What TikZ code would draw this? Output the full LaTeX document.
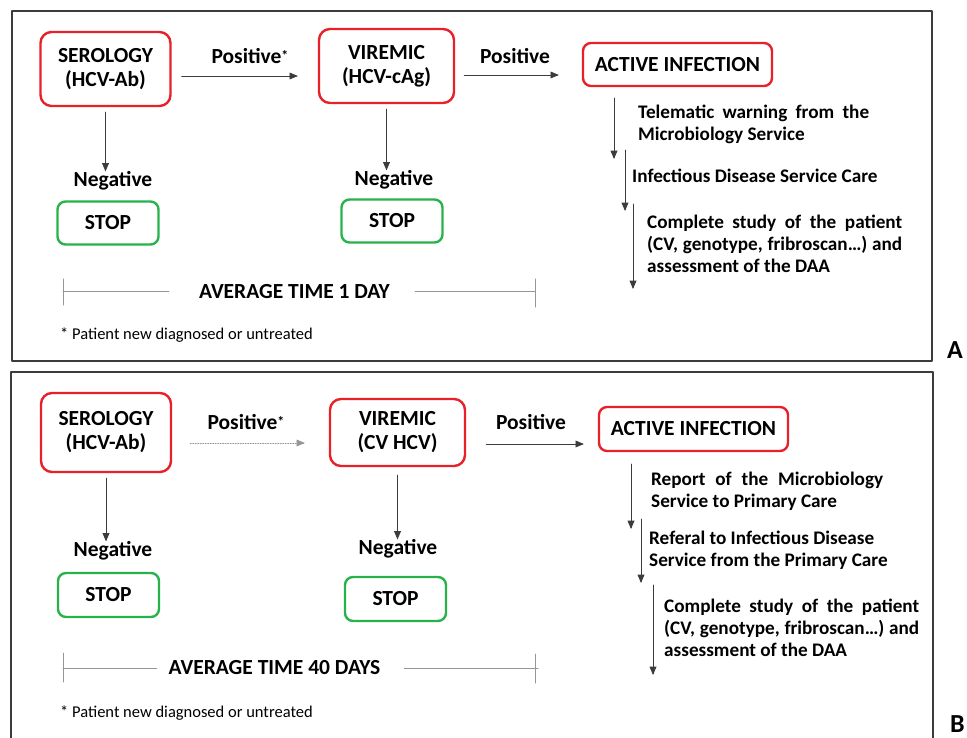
\documentclass[tikz,border=0pt]{standalone}
\usepackage{fontspec}
\setmainfont{Carlito}
\usepackage{xcolor}
\usepackage{tikz}
\usetikzlibrary{arrows}

\definecolor{boxred}{RGB}{232,32,40}
\definecolor{boxgreen}{RGB}{40,178,75}
\definecolor{linegray}{RGB}{60,60,60}
\definecolor{spangray}{RGB}{150,150,150}
\newcommand{\labfont}{\bfseries\fontsize{21.5}{24}\selectfont}
\newcommand{\stepfont}{\bfseries\fontsize{19.2}{22}\selectfont}
\newcommand{\notefont}{\fontsize{16.5}{20}\selectfont}
\newcommand{\smallstar}{\raisebox{3pt}{\fontsize{14}{14}\selectfont *}}
\tikzset{
  redbox/.style={draw=boxred,line width=2.4pt,rounded corners=11pt,align=center,font=\labfont,inner sep=0pt},
  stopbox/.style={draw=boxgreen,line width=2.4pt,rounded corners=8pt,minimum width=101pt,minimum height=43pt,font=\labfont,inner sep=0pt},
  lbl/.style={font=\labfont,inner sep=0pt},
  stepnote/.style={font=\stepfont,anchor=north west,inner sep=0pt},
  footnote/.style={font=\notefont,anchor=west,inner sep=0pt},
  tag/.style={font=\bfseries\fontsize{26}{30}\selectfont,anchor=west,inner sep=0pt},
  flow/.style={->,draw=linegray,line width=0.9pt},
  spanline/.style={draw=spangray,line width=1pt},
  panel/.style={draw=linegray,line width=1.8pt}
}

\begin{document}
\begin{tikzpicture}[line cap=round,line join=round,>=triangle 45,x=1pt,y=-1pt]
\clip(0,0) rectangle (967,738);
\draw[panel] (12,11) rectangle (932,361);
\draw[panel] (11,372) rectangle (933,760);

% A
\node[redbox,minimum width=130pt,minimum height=74pt] (serA) at (105.5,69) {SEROLOGY\\(HCV-Ab)};
\node[redbox,minimum width=135pt,minimum height=74pt] (virA) at (386.5,66) {VIREMIC\\(HCV-cAg)};
\node[redbox,rounded corners=8pt,minimum width=189pt,minimum height=43pt] (actA) at (677.5,64.5) {ACTIVE INFECTION};
\node[lbl] (posA1) at (250,56) {Positive\smallstar};
\node[lbl] (posA2) at (515,56) {Positive};
\node[lbl] (negA1) at (113,181) {Negative};
\node[lbl] (negA2) at (394,180) {Negative};
\node[stopbox] (stopA1) at (108,223) {STOP};
\node[stopbox] (stopA2) at (392,221) {STOP};
\draw[flow] ([shift={(10,7)}]serA.east) -- ([shift={(-20,10)}]virA.west);
\draw[flow] ([shift={(9,9)}]virA.east) -- ([shift={(-23,10.5)}]actA.west);
\draw[flow] ([yshift=-5pt]serA.south) -- (serA.south |- negA1.north);
\draw[flow] ([yshift=-5pt]virA.south) -- (virA.south |- negA2.north);
\node[stepnote,align=justify,text width=231pt] (tA1) at (638,105) {Telematic warning from the\linebreak Microbiology Service};
\node[stepnote] (tA2) at (632,169) {Infectious Disease Service Care};
\node[stepnote,align=justify,text width=255pt] (tA3) at (647,215) {Complete study of the patient\linebreak (CV, genotype, fribroscan…) and\linebreak assessment of the DAA};
\coordinate (a1s) at (614,98);
\coordinate (a1e) at (614,159);
\coordinate (a2s) at (625,150);
\coordinate (a2e) at (625,211);
\coordinate (a3s) at (633,204);
\coordinate (a3e) at (633,289);
\draw[flow] (a1s) -- (a1e);
\draw[flow] (a2s) -- (a2e);
\draw[flow] (a3s) -- (a3e);
\node[lbl] (avgA) at (294.5,292) {AVERAGE TIME 1 DAY};
\coordinate (avgLA) at (63,292);
\coordinate (avgRA) at (535,292);
\draw[spanline] (avgLA) -- ([xshift=-30pt]avgA.west);
\draw[spanline] ([xshift=25pt]avgA.east) -- (avgRA);
\draw[spanline] ([yshift=13pt]avgLA) -- ([yshift=-13pt]avgLA);
\draw[spanline] ([yshift=13pt]avgRA) -- ([yshift=-15pt]avgRA);
\node[footnote] (noteA) at (60,335) {* Patient new diagnosed or untreated};
\node[tag] (tagA) at (947,350) {A};

% B
\node[redbox,minimum width=130pt,minimum height=79pt] (serB) at (106,432.5) {SEROLOGY\\(HCV-Ab)};
\node[redbox,minimum width=135pt,minimum height=67pt] (virB) at (397.5,432.5) {VIREMIC\\(CV HCV)};
\node[redbox,rounded corners=8pt,minimum width=189pt,minimum height=44pt] (actB) at (693.5,429) {ACTIVE INFECTION};
\node[lbl] (posB1) at (246,422) {Positive\smallstar};
\node[lbl] (posB2) at (531,422) {Positive};
\node[lbl] (negB1) at (113,551) {Negative};
\node[lbl] (negB2) at (398,549) {Negative};
\node[stopbox,minimum height=44pt] (stopB1) at (108.5,595) {STOP};
\node[stopbox,minimum height=44pt] (stopB2) at (395.5,599) {STOP};
\draw[flow,draw=spangray,dash pattern=on 1pt off 1.5pt] ([shift={(18,10.5)}]serB.east) -- ([shift={(-24,10.5)}]virB.west);
\draw[flow] ([shift={(20,11.5)}]virB.east) -- ([shift={(-14,15)}]actB.west);
\draw[flow] ([yshift=-5pt]serB.south) -- (serB.south |- negB1.north);
\draw[flow] ([yshift=-8pt]virB.south) -- (virB.south |- negB2.north);
\node[stepnote,align=justify,text width=232pt] (tB1) at (651,472) {Report of the Microbiology\linebreak Service to Primary Care};
\node[stepnote,align=left] (tB2) at (649,531) {Referal to Infectious Disease\\Service from the Primary Care};
\node[stepnote,align=justify,text width=255pt] (tB3) at (664,599) {Complete study of the patient\linebreak (CV, genotype, fribroscan…) and\linebreak assessment of the DAA};
\coordinate (b1s) at (631,464);
\coordinate (b1e) at (631,529);
\coordinate (b2s) at (641,519);
\coordinate (b2e) at (641,583);
\coordinate (b3s) at (653,585);
\coordinate (b3e) at (653,675);
\draw[flow] (b1s) -- (b1e);
\draw[flow] (b2s) -- (b2e);
\draw[flow] (b3s) -- (b3e);
\node[lbl] (avgB) at (274.5,668) {AVERAGE TIME 40 DAYS};
\coordinate (avgLB) at (63,668);
\coordinate (avgRB) at (535,668);
\draw[spanline] (avgLB) -- ([xshift=-12pt]avgB.west);
\draw[spanline] ([xshift=24pt]avgB.east) -- ([xshift=3pt]avgRB);
\draw[spanline] ([yshift=15pt]avgLB) -- ([yshift=-14pt]avgLB);
\draw[spanline] ([yshift=14pt]avgRB) -- ([yshift=-15pt]avgRB);
\node[footnote] (noteB) at (60,713) {* Patient new diagnosed or untreated};
\node[tag] (tagB) at (950,724) {B};
\end{tikzpicture}
\end{document}
